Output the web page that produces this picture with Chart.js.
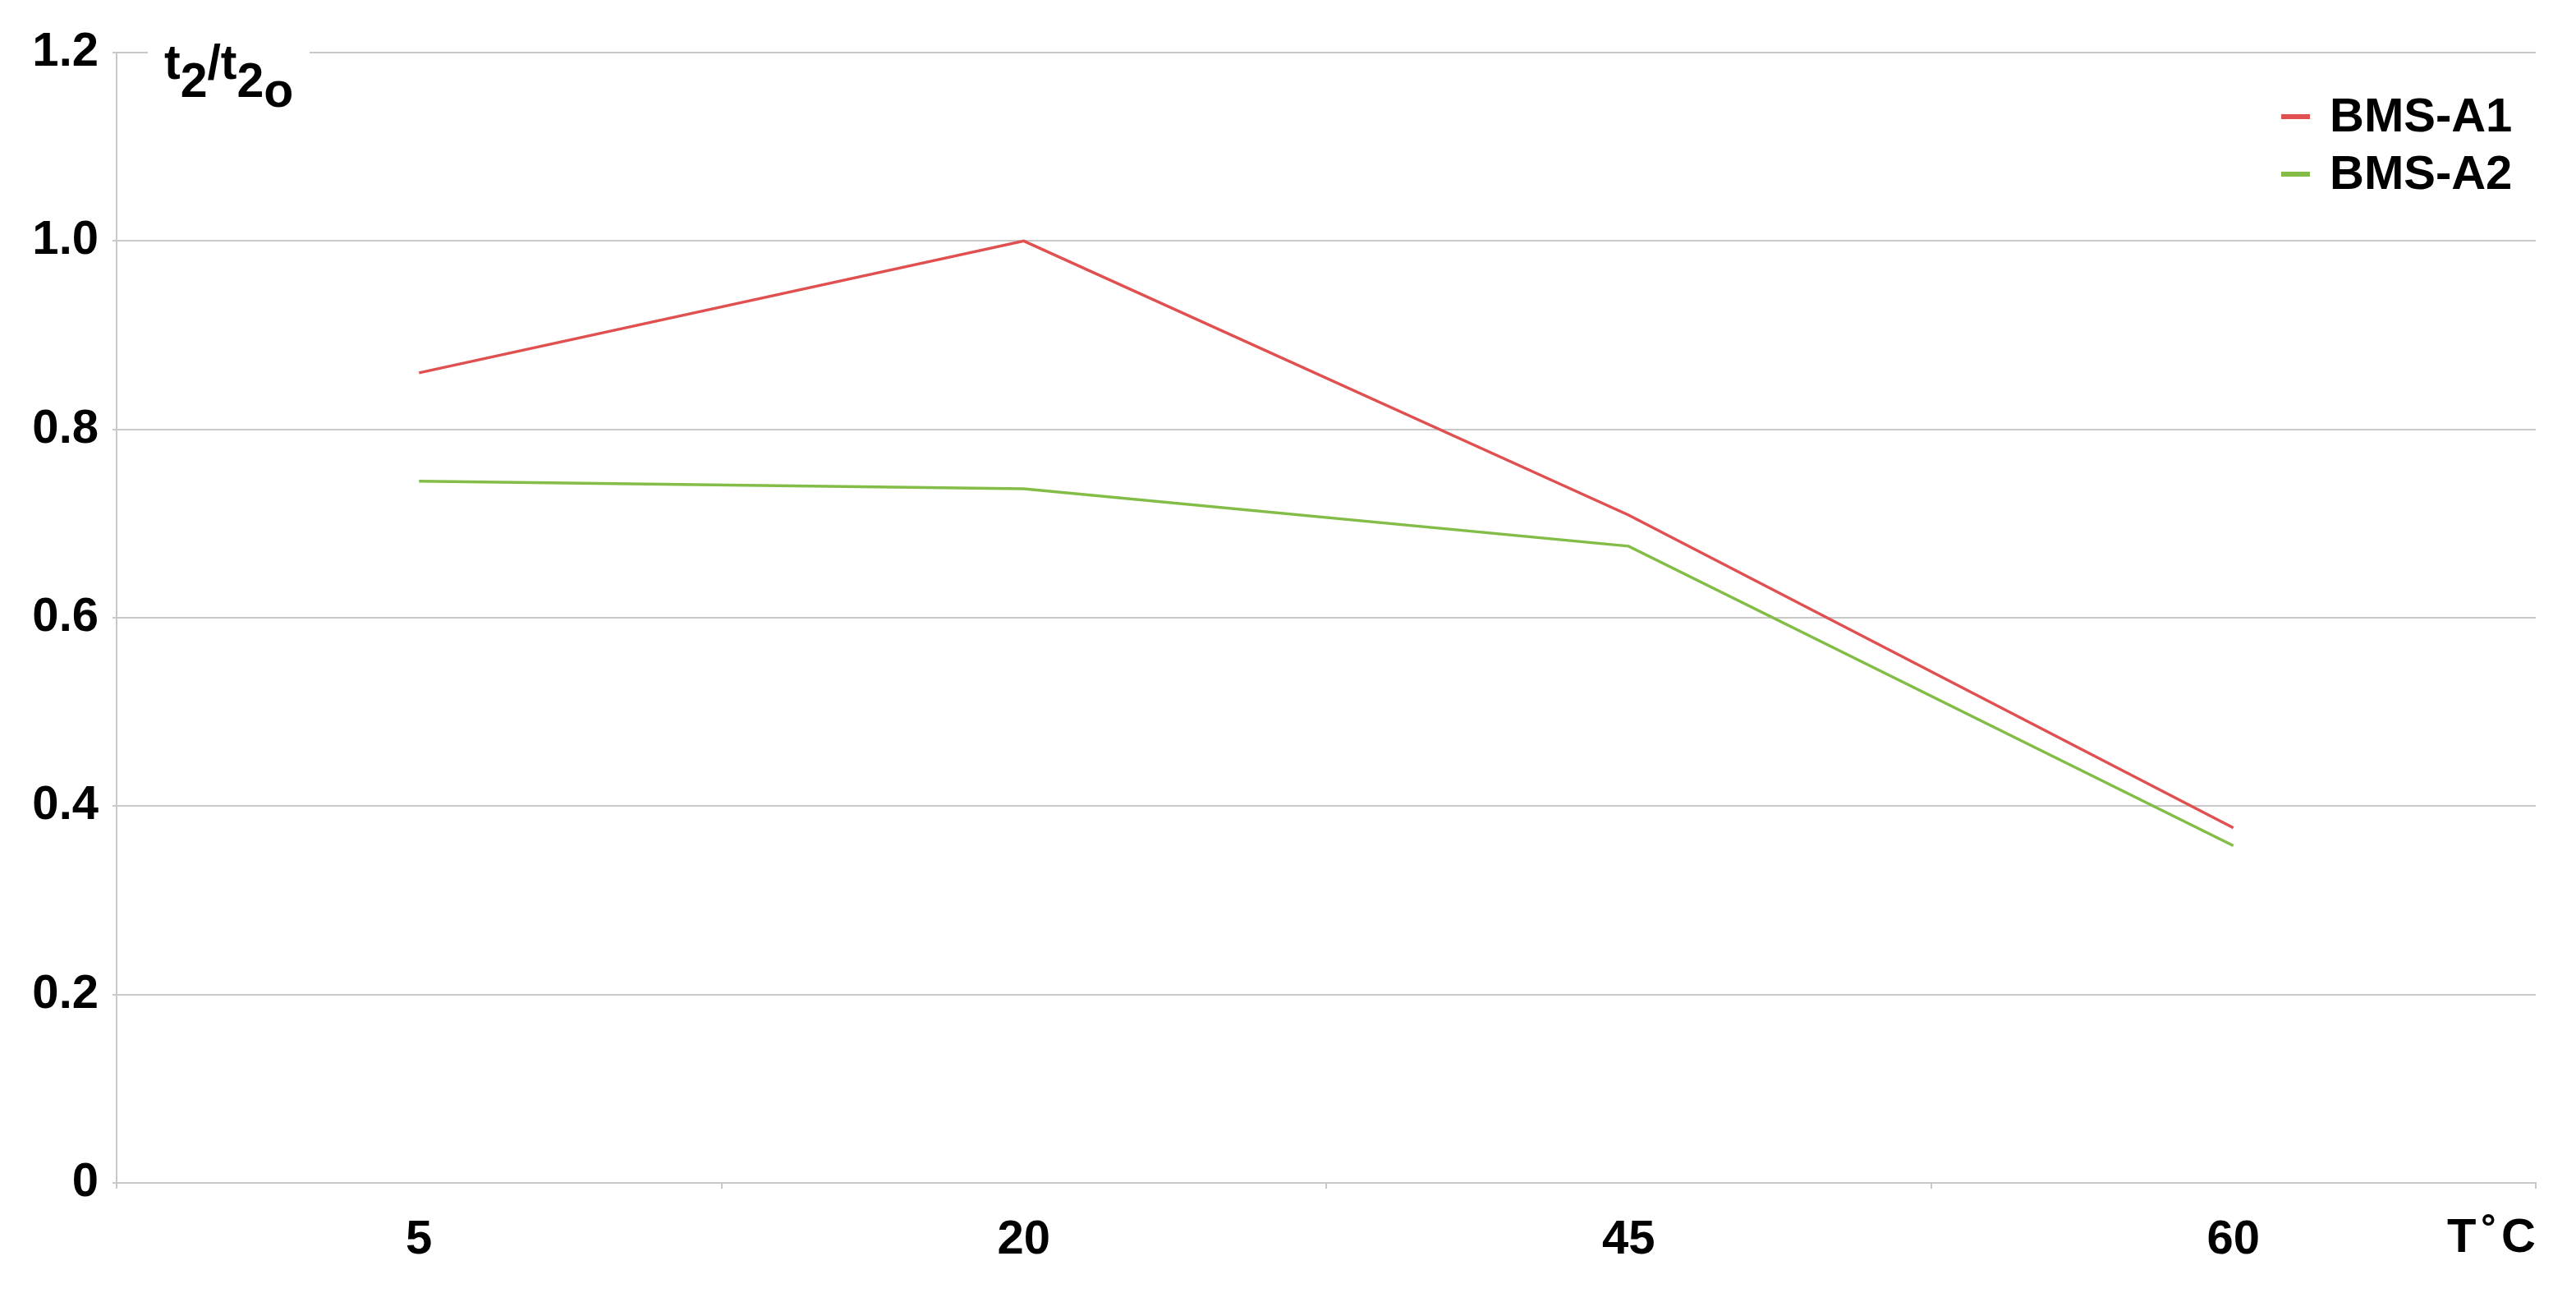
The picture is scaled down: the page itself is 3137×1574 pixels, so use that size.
<!DOCTYPE html>
<html>
<head>
<meta charset="utf-8">
<script src="https://cdn.jsdelivr.net/npm/chart.js@4/dist/chart.umd.min.js"></script>
<style>
  html, body { margin: 0; padding: 0; background: #fff; }
  #wrap { width: 3137px; height: 1574px; }
</style>
</head>
<body>
<div id="wrap"><canvas id="chart" width="3137" height="1574"></canvas></div>
<script>
// data
const temps = ['5', '20', '45', '60'];
const bmsA1 = [0.86, 1.0, 0.709, 0.377];
const bmsA2 = [0.745, 0.737, 0.676, 0.358];
const yTicks = [0, 0.2, 0.4, 0.6, 0.8, 1.0, 1.2];
const xUnit = ['T', '˚', 'C'];

const FONT = '"Liberation Sans", Arial, sans-serif';
const GRID = '#c8c8c8';
const RED = '#e05050';
const GREEN = '#84bc48';

// y title "t2/t2o" with subscripts + white box over the 1.2 grid line
const yTitlePlugin = {
    id: 'yTitle',
    afterDraw(chart) {
        const ctx = chart.ctx;
        const top = chart.chartArea.top;
        ctx.save();
        ctx.fillStyle = '#fff';
        ctx.fillRect(180, top - 4, 197, 8);
        ctx.fillStyle = '#000';
        ctx.font = 'bold 59px ' + FONT;
        ctx.textBaseline = 'alphabetic';
        const base = top + 32;
        const parts = [['t', 0], ['2', 22], ['/t', 0], ['2', 22], ['o', 34]];
        let x = 200;
        parts.forEach(([s, dy]) => {
            ctx.fillText(s, x, base + dy);
            x += ctx.measureText(s).width;
        });
        ctx.restore();
    }
};

// unit label at the right end of the x axis, legend in top right corner
const extrasPlugin = {
    id: 'extras',
    afterDraw(chart) {
        const ctx = chart.ctx;
        const area = chart.chartArea;
        ctx.save();
        ctx.fillStyle = '#000';
        ctx.font = 'bold 58px ' + FONT;
        ctx.textBaseline = 'alphabetic';
        // "T ˚C" right aligned at the axis end
        ctx.textAlign = 'left';
        ctx.fillText(xUnit[0], 2980, 1524);
        ctx.fillText(xUnit[1], 3022, 1524);
        ctx.textAlign = 'right';
        ctx.fillText(xUnit[2], area.right, 1524);

        ctx.textAlign = 'left';
        ctx.textBaseline = 'middle';
        chart.data.datasets.forEach((ds, i) => {
            const y = 142 + i * 70;
            ctx.strokeStyle = ds.borderColor;
            ctx.lineWidth = 6;
            ctx.beginPath();
            ctx.moveTo(2778, y);
            ctx.lineTo(2813, y);
            ctx.stroke();
            ctx.fillStyle = '#000';
            ctx.fillText(ds.label, 2837, y + 2);
        });
        ctx.restore();
    }
};

new Chart(document.getElementById('chart'), {
    type: 'line',
    data: {
        labels: temps,
        datasets: [
            { label: 'BMS-A1', data: bmsA1, borderColor: RED, borderWidth: 3.5, pointRadius: 0, tension: 0 },
            { label: 'BMS-A2', data: bmsA2, borderColor: GREEN, borderWidth: 3.5, pointRadius: 0, tension: 0 }
        ]
    },
    options: {
        responsive: false,
        animation: false,
        layout: { padding: { top: 64, right: 49, bottom: 0, left: 0 } },
        plugins: { legend: { display: false }, tooltip: { enabled: false } },
        scales: {
            x: {
                type: 'category',
                offset: true,
                grid: { offset: true, drawOnChartArea: false, color: GRID, lineWidth: 2, tickLength: 7 },
                border: { color: GRID, width: 2 },
                ticks: { color: '#000', font: { family: FONT, weight: 'bold', size: 58 }, padding: 28, maxRotation: 0 },
                afterFit(scale) { scale.height = 134; }
            },
            y: {
                min: 0,
                max: 1.2,
                afterBuildTicks(scale) { scale.ticks = yTicks.map(v => ({ value: v })); },
                grid: { color: GRID, lineWidth: 2, tickLength: 5 },
                border: { color: GRID, width: 2 },
                ticks: {
                    color: '#000',
                    font: { family: FONT, weight: 'bold', size: 58 },
                    padding: 17,
                    callback: v => v === 0 ? '0' : v.toFixed(1)
                },
                afterFit(scale) { scale.width = 142; }
            }
        }
    },
    plugins: [yTitlePlugin, extrasPlugin]
});
</script>
</body>
</html>
